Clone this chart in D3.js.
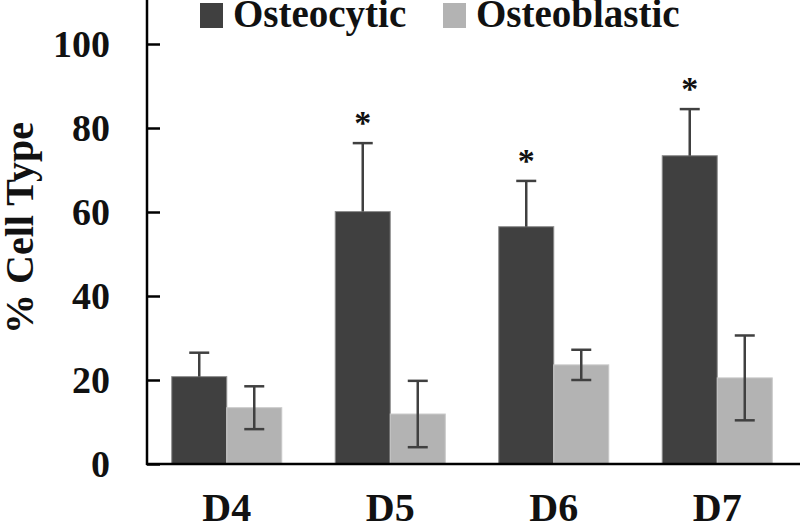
<!DOCTYPE html>
<html><head><meta charset="utf-8">
<script src="https://cdn.jsdelivr.net/npm/d3@7"></script>
<style>body{margin:0;background:#fff}svg{display:block}</style>
</head><body>
<svg id="c" width="800" height="526"></svg>
<script>
const days = ["D4","D5","D6","D7"];
const seriesNames = ["Osteocytic","Osteoblastic"];
const osteocytic = [20.8, 60.1, 56.5, 73.4];
const osteocyticErr = [5.7, 16.3, 10.9, 11.1];
const osteoblastic = [13.4, 11.9, 23.6, 20.5];
const osteoblasticErr = [5.1, 7.9, 3.6, 10.1];
const significant = [false, true, true, true];
const yTicks = [0, 20, 40, 60, 80, 100];
const colors = ["#404040", "#b3b3b3"];

const svg = d3.select("#c");
const font = "'Liberation Serif','Times New Roman',serif";
const y = d3.scaleLinear().domain([0,100]).range([464,44]);
const x = d3.scaleBand().domain(days).range([145,799]).paddingInner(0.327).paddingOuter(0.1635);
const xs = d3.scaleBand().domain(seriesNames).range([0, x.bandwidth()]);

const rows = days.map((d,i)=>({day:d, vals:[
  {s:seriesNames[0], v:osteocytic[i], e:osteocyticErr[i], both:false},
  {s:seriesNames[1], v:osteoblastic[i], e:osteoblasticErr[i], both:true}
], sig:significant[i]}));

// bars
const g = svg.append("g");
const grp = g.selectAll("g.day").data(rows).join("g").attr("transform", d=>`translate(${x(d.day)},0)`);
grp.selectAll("rect").data(d=>d.vals).join("rect")
  .attr("x", d=>xs(d.s)).attr("width", xs.bandwidth())
  .attr("y", d=>y(d.v)).attr("height", d=>y(0)-y(d.v))
  .attr("fill", (d,i)=>colors[i])
  .attr("stroke", (d,i)=> i===0 ? "#8c8c8c" : "#c9c9c9").attr("stroke-width", 1);

// error bars
const eb = grp.selectAll("g.err").data(d=>d.vals).join("g")
  .attr("stroke", "#404040").attr("stroke-width", 2.5);
eb.append("line")
  .attr("x1", d=>xs(d.s)+xs.bandwidth()/2).attr("x2", d=>xs(d.s)+xs.bandwidth()/2)
  .attr("y1", d=>y(d.both? d.v-d.e : d.v)).attr("y2", d=>y(d.v+d.e));
eb.append("line")
  .attr("x1", d=>xs(d.s)+xs.bandwidth()/2-10).attr("x2", d=>xs(d.s)+xs.bandwidth()/2+10)
  .attr("y1", d=>y(d.v+d.e)).attr("y2", d=>y(d.v+d.e));
eb.filter(d=>d.both).append("line")
  .attr("x1", d=>xs(d.s)+xs.bandwidth()/2-10).attr("x2", d=>xs(d.s)+xs.bandwidth()/2+10)
  .attr("y1", d=>y(d.v-d.e)).attr("y2", d=>y(d.v-d.e));

// stars
grp.filter(d=>d.sig).append("text")
  .attr("x", xs(seriesNames[0])+xs.bandwidth()/2)
  .attr("y", d=>y(d.vals[0].v+d.vals[0].e)-9)
  .attr("text-anchor","middle")
  .attr("font-family", font).attr("font-weight","bold").attr("font-size", 34)
  .attr("fill","#111").text("*");

// axes
const yAxis = svg.append("g").attr("transform","translate(147,0)")
  .call(d3.axisRight(y).tickValues(yTicks).tickSize(13).tickFormat(""));
yAxis.select(".domain").remove();
yAxis.selectAll(".tick line").attr("stroke","#000").attr("stroke-width",2.5);
svg.append("line").attr("x1",147).attr("x2",147).attr("y1",0).attr("y2",y(0)+1)
  .attr("stroke","#000").attr("stroke-width",2.5);
svg.append("line").attr("x1",146).attr("x2",800).attr("y1",y(0)).attr("y2",y(0))
  .attr("stroke","#000").attr("stroke-width",2.5);

svg.append("g").selectAll("text").data(yTicks).join("text")
  .attr("x",110).attr("y", d=>y(d)).attr("dy","0.34em").attr("text-anchor","end")
  .attr("font-family",font).attr("font-weight","bold").attr("font-size",38).attr("fill","#111")
  .text(d=>d);

svg.append("g").selectAll("text").data(days).join("text")
  .attr("x", d=>x(d)+x.bandwidth()/2).attr("y",521).attr("text-anchor","middle")
  .attr("font-family",font).attr("font-weight","bold").attr("font-size",40).attr("fill","#111")
  .text(d=>d);

svg.append("text").attr("transform","translate(33,228) rotate(-90)").attr("text-anchor","middle")
  .attr("font-family",font).attr("font-weight","bold").attr("font-size",40).attr("fill","#111")
  .text("% Cell Type");

// legend
const legX = [200, 443];
const leg = svg.append("g").selectAll("g").data(seriesNames).join("g")
  .attr("transform",(d,i)=>`translate(${legX[i]},0)`);
leg.append("rect").attr("x",0).attr("y",3).attr("width",23).attr("height",25).attr("fill",(d,i)=>colors[i]);
leg.append("text").attr("x",33).attr("y",27)
  .attr("font-family",font).attr("font-weight","bold").attr("font-size",39).attr("fill","#111")
  .text(d=>d);
</script>
</body></html>
